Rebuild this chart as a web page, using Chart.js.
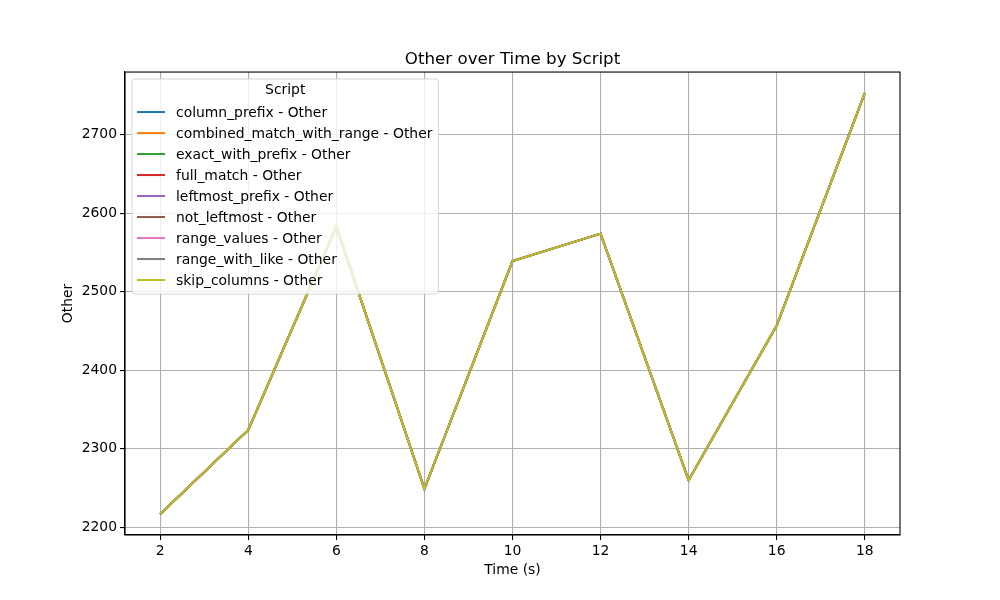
<!DOCTYPE html>
<html>
<head>
<meta charset="utf-8">
<title>Other over Time by Script</title>
<script src="https://cdn.jsdelivr.net/npm/chart.js@4"></script>
<style>
    html, body { margin: 0; padding: 0; background: #fff; }
    #wrap { width: 1000px; height: 600px; position: relative; }
</style>
</head>
<body>
<div id="wrap"><canvas id="otherChart"></canvas></div>
<script>
// data
const timeSeconds = [2, 4, 6, 8, 10, 12, 14, 16, 18];
const scripts = [
    'column_prefix', 'combined_match_with_range', 'exact_with_prefix', 'full_match',
    'leftmost_prefix', 'not_leftmost', 'range_values', 'range_with_like', 'skip_columns'
];
// every script has the same "Other" values, the lines lie on top of each other
const otherValues = [2217, 2324, 2583, 2249, 2539, 2574, 2260, 2457, 2753];
const xTicks = [2, 4, 6, 8, 10, 12, 14, 16, 18];
const yTicks = [2200, 2300, 2400, 2500, 2600, 2700];

const COLORS = ['#1f77b4', '#ff7f0e', '#2ca02c', '#d62728', '#9467bd', '#8c564b', '#e377c2', '#7f7f7f', '#bcbd22'];

Chart.defaults.font.family = "'DejaVu Sans', sans-serif";
Chart.defaults.color = '#000';

const FS = 13.9;

// center the title over the plot area, not the whole canvas
const centerTitle = {
    id: 'centerTitle',
    afterLayout(chart) {
        const t = chart.titleBlock;
        if (!t) return;
        t.left = chart.chartArea.left;
        t.right = chart.chartArea.right;
        t.width = t.right - t.left;
    }
};

// matplotlib-like frame on all four sides
const framePlugin = {
    id: 'frame',
    afterDatasetsDraw(chart) {
        const { ctx, chartArea: a } = chart;
        ctx.save();
        ctx.strokeStyle = '#000';
        ctx.lineWidth = 1.1;
        ctx.strokeRect(a.left, a.top, a.right - a.left, a.bottom - a.top);
        ctx.restore();
    }
};

// legend drawn inside the plot, over the lines, like loc="upper left"
const insideLegend = {
    id: 'insideLegend',
    afterDatasetsDraw(chart) {
        const { ctx, chartArea: a } = chart;
        const sets = chart.data.datasets;
        const x = a.left + 7, y = a.top + 7;
        const rowH = 21;
        ctx.save();
        ctx.font = `${FS}px 'DejaVu Sans', sans-serif`;
        const textW = Math.max(...sets.map(d => ctx.measureText(d.label).width));
        const w = 44 + textW + 6;
        const h = 34 + sets.length * rowH - 8;
        ctx.beginPath();
        ctx.roundRect(x, y, w, h, 3);
        ctx.fillStyle = 'rgba(255,255,255,0.8)';
        ctx.fill();
        ctx.strokeStyle = 'rgba(204,204,204,0.8)';
        ctx.lineWidth = 1;
        ctx.stroke();

        ctx.fillStyle = '#000';
        ctx.textAlign = 'center';
        ctx.textBaseline = 'middle';
        ctx.fillText('Script', x + w / 2, y + 11);

        ctx.textAlign = 'left';
        sets.forEach((d, i) => {
            const cy = y + 33 + i * rowH;
            ctx.strokeStyle = d.borderColor;
            ctx.lineWidth = 2;
            ctx.beginPath();
            ctx.moveTo(x + 5, cy);
            ctx.lineTo(x + 33, cy);
            ctx.stroke();
            ctx.fillStyle = '#000';
            ctx.fillText(d.label, x + 44, cy + 1);
        });
        ctx.restore();
    }
};

new Chart(document.getElementById('otherChart'), {
    type: 'line',
    data: {
        labels: timeSeconds,
        datasets: scripts.map((s, i) => ({
            label: `${s} - Other`,
            data: timeSeconds.map((t, j) => ({ x: t, y: otherValues[j] })),
            borderColor: COLORS[i],
            backgroundColor: COLORS[i],
            borderWidth: 2,
            pointRadius: 0,
            tension: 0,
            fill: false,
            order: scripts.length - 1 - i
        }))
    },
    options: {
        responsive: true,
        maintainAspectRatio: false,
        animation: false,
        layout: { padding: { top: 50, right: 100, bottom: 0, left: 0 } },
        plugins: {
            legend: { display: false },
            tooltip: { enabled: false },
            title: {
                display: true,
                text: 'Other over Time by Script',
                font: { size: 16.7, weight: 'normal' },
                color: '#000',
                padding: { top: 0, bottom: 2 }
            }
        },
        scales: {
            x: {
                type: 'linear',
                min: 1.2,
                max: 18.8,
                afterBuildTicks: s => { s.ticks = xTicks.map(v => ({ value: v })); },
                afterFit: s => { s.height = 65; },
                grid: { color: '#b0b0b0', lineWidth: 1.1, tickLength: 5, tickColor: '#000', drawTicks: true },
                border: { display: true, color: '#000', width: 1.1 },
                ticks: { font: { size: FS }, padding: 3, maxRotation: 0, color: '#000', callback: v => String(v) },
                title: { display: true, text: 'Time (s)', font: { size: FS }, color: '#000', padding: { top: 0, bottom: 21 } }
            },
            y: {
                type: 'linear',
                min: 2190.2,
                max: 2779.8,
                afterBuildTicks: s => { s.ticks = yTicks.map(v => ({ value: v })); },
                afterFit: s => { s.width = 125; },
                grid: { color: '#b0b0b0', lineWidth: 1.1, tickLength: 5, tickColor: '#000', drawTicks: true },
                border: { display: true, color: '#000', width: 1.1 },
                ticks: { font: { size: FS }, padding: 3, color: '#000', callback: v => String(v) },
                title: { display: true, text: 'Other', font: { size: FS }, color: '#000', padding: { top: 60, bottom: 0 } }
            }
        }
    },
    plugins: [centerTitle, framePlugin, insideLegend]
});
</script>
</body>
</html>
